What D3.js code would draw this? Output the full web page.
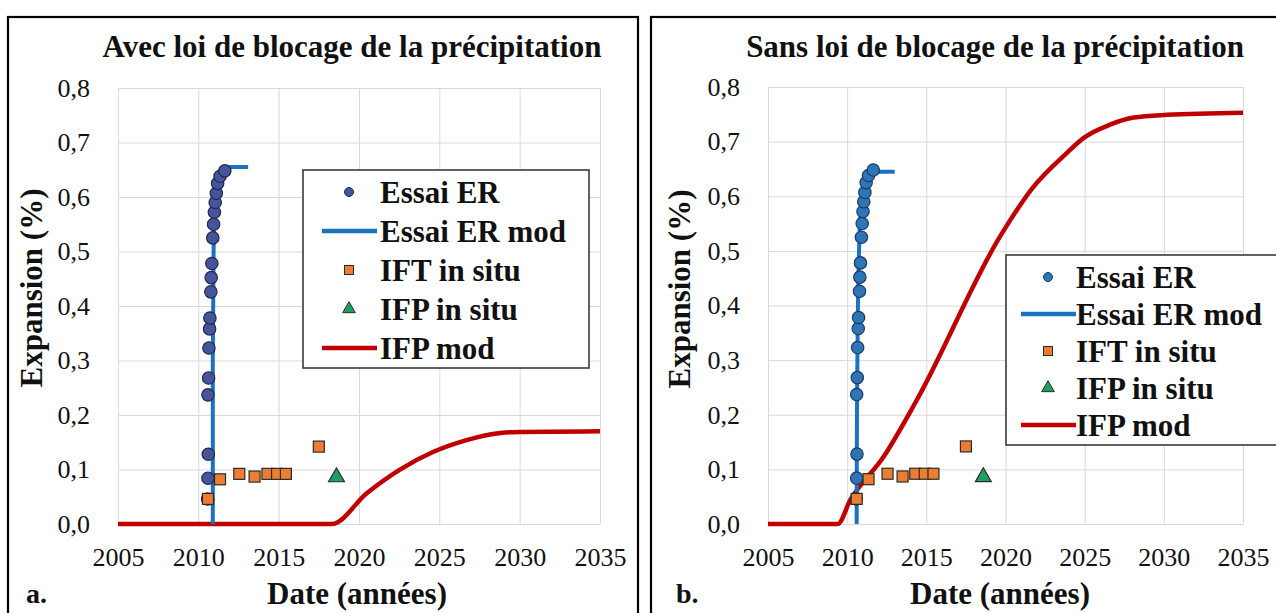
<!DOCTYPE html>
<html>
<head>
<meta charset="utf-8">
<script src="https://cdn.jsdelivr.net/npm/d3@7"></script>
<style>
  html, body { margin: 0; padding: 0; background: #ffffff; }
  svg { display: block; font-family: "Liberation Serif", "Times New Roman", serif; }
</style>
</head>
<body>
<svg id="chart" width="1276" height="613"></svg>
<script>
// ---- data ----
const xTicks = [2005, 2010, 2015, 2020, 2025, 2030, 2035];
const yTicks = [0, 0.1, 0.2, 0.3, 0.4, 0.5, 0.6, 0.7, 0.8];

// laboratory expansion test (Essai ER), same points in both panels
const erYear = [2010.58, 2010.6, 2010.62, 2010.6, 2010.64, 2010.66, 2010.7, 2010.72, 2010.78, 2010.8, 2010.84,
                2010.9, 2010.95, 2011.0, 2011.05, 2011.12, 2011.2, 2011.35, 2011.65];
const erExp  = [0.046, 0.084, 0.128, 0.237, 0.268, 0.323, 0.358, 0.378, 0.426, 0.452, 0.478,
                0.525, 0.55, 0.572, 0.59, 0.607, 0.625, 0.638, 0.648];

// IFT in situ
const iftYear = [2010.6, 2011.35, 2012.55, 2013.5, 2014.3, 2014.9, 2015.45, 2017.5];
const iftExp  = [0.046, 0.082, 0.092, 0.087, 0.092, 0.092, 0.092, 0.142];

// IFP in situ
const ifpYear = [2018.6];
const ifpExp  = [0.086];

// panel a: with precipitation blocking law
const erModYearA = [2010.9, 2010.9, 2010.95, 2011.0, 2011.1, 2011.25, 2011.5, 2012.0, 2013.1];
const erModExpA  = [0, 0.3, 0.5, 0.58, 0.62, 0.64, 0.652, 0.655, 0.655];
const ifpModYearA = [2005, 2018.3, 2020.5, 2022.5, 2024.6, 2026.7, 2028.8, 2030.0, 2035];
const ifpModExpA  = [0, 0, 0.057, 0.099, 0.132, 0.154, 0.167, 0.169, 0.17];

// panel b: without precipitation blocking law
const erModYearB = [2010.6, 2010.62, 2010.68, 2010.75, 2010.85, 2011.0, 2011.2, 2011.5, 2012.0, 2013.0];
const erModExpB  = [0, 0.2, 0.4, 0.5, 0.57, 0.61, 0.63, 0.64, 0.645, 0.645];
const ifpModYearB = [2005, 2009.4, 2010.2, 2012.3, 2014.4, 2019.65, 2021.7, 2023.9, 2024.9, 2026.6, 2028.1, 2030.2, 2035];
const ifpModExpB  = [0, 0, 0.044, 0.123, 0.227, 0.526, 0.615, 0.68, 0.706, 0.731, 0.744, 0.749, 0.753];

const legendLabels = ["Essai ER", "Essai ER mod", "IFT in situ", "IFP in situ", "IFP mod"];

const zip = (xs, ys) => xs.map((x, i) => ({ x, y: ys[i] }));

// ---- styles ----
const COL_ORANGE = "#ed7d31";
const COL_GREEN = "#1f9e62";
const COL_LINE_BLUE = "#1a72c0";
const COL_RED = "#c00000";
const COL_GRID = "#d9d9d9";

const svg = d3.select("#chart");

function drawPanel(cfg) {
  const g = svg.append("g");

  // panel frame
  g.append("rect")
    .attr("x", cfg.frame[0]).attr("y", cfg.frame[1])
    .attr("width", cfg.frame[2]).attr("height", cfg.frame[3])
    .attr("fill", "#fff").attr("stroke", "#000").attr("stroke-width", 2.2);

  const x = d3.scaleLinear().domain([2005, 2035]).range(cfg.xRange);
  const y = d3.scaleLinear().domain([0, 0.8]).range(cfg.yRange);

  // gridlines
  g.append("g")
    .attr("transform", `translate(0,${cfg.yRange[0]})`)
    .call(d3.axisBottom(x).tickValues(xTicks).tickSize(-(cfg.yRange[0] - cfg.yRange[1])).tickFormat(""))
    .call(s => s.select(".domain").remove())
    .call(s => s.selectAll("line").attr("stroke", COL_GRID).attr("stroke-width", 1));
  g.append("g")
    .attr("transform", `translate(${cfg.xRange[0]},0)`)
    .call(d3.axisLeft(y).tickValues(yTicks).tickSize(-(cfg.xRange[1] - cfg.xRange[0])).tickFormat(""))
    .call(s => s.select(".domain").remove())
    .call(s => s.selectAll("line").attr("stroke", COL_GRID).attr("stroke-width", 1));

  // tick labels
  g.append("g")
    .attr("transform", `translate(0,${cfg.yRange[0]})`)
    .call(d3.axisBottom(x).tickValues(xTicks).tickSize(0).tickPadding(24).tickFormat(d3.format("d")))
    .call(s => s.select(".domain").remove())
    .call(s => s.selectAll("text")
      .attr("font-family", "Liberation Serif").attr("font-size", 26).attr("fill", "#111"));
  g.append("g")
    .attr("transform", `translate(${cfg.xRange[0]},0)`)
    .call(d3.axisLeft(y).tickValues(yTicks).tickSize(0).tickPadding(28)
      .tickFormat(d => d3.format(".1f")(d).replace(".", ",")))
    .call(s => s.select(".domain").remove())
    .call(s => s.selectAll("text")
      .attr("font-family", "Liberation Serif").attr("font-size", 26).attr("fill", "#111"));

  const line = d3.line().x(d => x(d.x)).y(d => y(d.y)).curve(d3.curveMonotoneX);
  const lineV = d3.line().x(d => x(d.x)).y(d => y(d.y)).curve(d3.curveMonotoneY);

  // IFP model
  g.append("path").datum(zip(cfg.ifpModYear, cfg.ifpModExp))
    .attr("d", line).attr("fill", "none")
    .attr("stroke", COL_RED).attr("stroke-width", 4.5).attr("stroke-linejoin", "round");

  // Essai ER model
  g.append("path").datum(zip(cfg.erModYear, cfg.erModExp))
    .attr("d", lineV).attr("fill", "none")
    .attr("stroke", COL_LINE_BLUE).attr("stroke-width", 4).attr("stroke-linejoin", "round");

  // Essai ER points
  g.append("g").selectAll("circle").data(zip(erYear, erExp)).join("circle")
    .attr("cx", d => x(d.x)).attr("cy", d => y(d.y)).attr("r", 6.2)
    .attr("fill", cfg.erFill).attr("stroke", cfg.erStroke).attr("stroke-width", 1.2);

  // IFT in situ
  const sq = 11;
  g.append("g").selectAll("rect").data(zip(iftYear, iftExp)).join("rect")
    .attr("x", d => x(d.x) - sq / 2).attr("y", d => y(d.y) - sq / 2)
    .attr("width", sq).attr("height", sq)
    .attr("fill", COL_ORANGE).attr("stroke", "#2b2b2b").attr("stroke-width", 1.2);

  // IFP in situ
  const tri = d3.symbol().type(d3.symbolTriangle).size(110);
  g.append("g").selectAll("path").data(zip(ifpYear, ifpExp)).join("path")
    .attr("transform", d => `translate(${x(d.x)},${y(d.y)})`)
    .attr("d", tri).attr("fill", COL_GREEN).attr("stroke", "#2b2b2b").attr("stroke-width", 1.2);

  // titles
  g.append("text").attr("x", cfg.titleX).attr("y", 57)
    .attr("text-anchor", "middle").attr("font-weight", "bold").attr("font-size", 31)
    .attr("fill", "#111").text(cfg.title);
  g.append("text")
    .attr("transform", `translate(${cfg.yLabelX},${cfg.yLabelY}) rotate(-90)`)
    .attr("text-anchor", "middle").attr("font-weight", "bold").attr("font-size", 31)
    .attr("fill", "#111").text("Expansion (%)");
  g.append("text").attr("x", cfg.xLabelX).attr("y", 604)
    .attr("text-anchor", "middle").attr("font-weight", "bold").attr("font-size", 31)
    .attr("fill", "#111").text("Date (années)");
  g.append("text").attr("x", cfg.tagX).attr("y", 603)
    .attr("font-weight", "bold").attr("font-size", 28)
    .attr("fill", "#111").text(cfg.tag);

  // legend
  const L = cfg.legend;
  const lg = g.append("g");
  lg.append("rect").attr("x", L.x).attr("y", L.y).attr("width", L.w).attr("height", L.h)
    .attr("fill", "#fff").attr("stroke", "#3a3a3a").attr("stroke-width", 1.6);
  legendLabels.forEach((lab, i) => {
    const cy = L.y + L.first + i * L.step;
    const cx = L.x + L.symX;
    if (i === 0) {
      lg.append("circle").attr("cx", cx).attr("cy", cy).attr("r", 4.5)
        .attr("fill", cfg.erFill).attr("stroke", cfg.erStroke).attr("stroke-width", 1);
    } else if (i === 1 || i === 4) {
      lg.append("line").attr("x1", cx - 27).attr("x2", cx + 28).attr("y1", cy).attr("y2", cy)
        .attr("stroke", i === 1 ? COL_LINE_BLUE : COL_RED).attr("stroke-width", 4.5);
    } else if (i === 2) {
      lg.append("rect").attr("x", cx - 4.5).attr("y", cy - 4.5).attr("width", 9).attr("height", 9)
        .attr("fill", COL_ORANGE).attr("stroke", "#2b2b2b").attr("stroke-width", 1);
    } else {
      lg.append("path").attr("transform", `translate(${cx},${cy})`)
        .attr("d", d3.symbol().type(d3.symbolTriangle).size(70))
        .attr("fill", COL_GREEN).attr("stroke", "#2b2b2b").attr("stroke-width", 1);
    }
    lg.append("text").attr("x", L.x + L.textX).attr("y", cy).attr("dy", "0.35em")
      .attr("font-weight", "bold").attr("font-size", 31).attr("fill", "#111").text(lab);
  });
}

drawPanel({
  frame: [8, 17, 630, 620],
  xRange: [118, 600], yRange: [524, 88],
  title: "Avec loi de blocage de la précipitation", titleX: 352,
  yLabelX: 42, yLabelY: 288, xLabelX: 357, tagX: 26, tag: "a.",
  erFill: "#46549c", erStroke: "#23284f",
  erModYear: erModYearA, erModExp: erModExpA,
  ifpModYear: ifpModYearA, ifpModExp: ifpModExpA,
  legend: { x: 303, y: 170, w: 286, h: 198, first: 22, step: 39, symX: 46, textX: 77 }
});

drawPanel({
  frame: [651, 17, 640, 620],
  xRange: [768, 1243], yRange: [524, 87],
  title: "Sans loi de blocage de la précipitation", titleX: 995,
  yLabelX: 690, yLabelY: 289, xLabelX: 1000, tagX: 676, tag: "b.",
  erFill: "#2e75b6", erStroke: "#1c3a66",
  erModYear: erModYearB, erModExp: erModExpB,
  ifpModYear: ifpModYearB, ifpModExp: ifpModExpB,
  legend: { x: 1006, y: 255, w: 280, h: 190, first: 22, step: 37, symX: 42, textX: 70 }
});
</script>
</body>
</html>
